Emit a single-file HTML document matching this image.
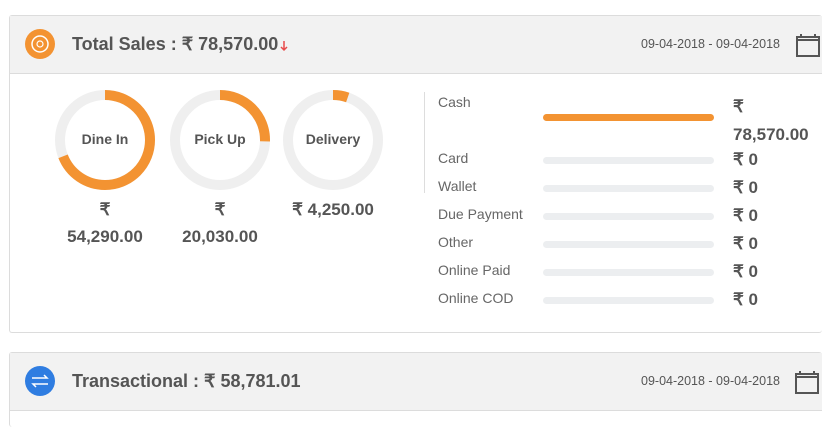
<!DOCTYPE html>
<html style="overflow:hidden;height:428px"><head><meta charset="utf-8"><style>
body{margin:0;width:840px;height:428px;background:#fff;font-family:"Liberation Sans",sans-serif;color:#555;position:relative;overflow:hidden}
.a{position:absolute;white-space:nowrap}
.card{position:absolute;left:9px;width:812px;border:1px solid #dcdcdc;border-radius:3px;background:#fff;border-right:none}
.hd{position:absolute;left:0;right:0;top:0;height:57px;background:#f2f2f2;border-bottom:1px solid #dcdcdc}
.t{font-size:18px;font-weight:bold;color:#555}
.lbl{font-size:14px;color:#666}
.bar{position:absolute;left:543px;width:171px;height:7px;border-radius:4px;background:#eceef0}
.v{font-size:17px;font-weight:bold;color:#555}
</style></head><body>
<div class="card" style="top:15px;height:316px"><div class="hd"></div></div>
<div class="card" style="top:352px;height:74px;border-bottom:none"><div class="hd"></div></div>

<svg class="a" style="left:0;top:0" width="840" height="428">
<circle cx="40" cy="44" r="15" fill="#f39332"/>
<circle cx="40" cy="44" r="8" fill="none" stroke="#fff" stroke-width="1.5"/>
<circle cx="40" cy="44" r="3" fill="none" stroke="#fff" stroke-width="1.2"/>
<circle cx="40" cy="381" r="15" fill="#2f7de1"/>
<path d="M32 378h15l-3-3M48 384h-15l3 3" fill="none" stroke="#fff" stroke-width="1.5"/>
<path d="M284 41v9m-3-3l3 3l3-3" fill="none" stroke="#e84a4a" stroke-width="1.5"/>
<g fill="none" stroke="#555" stroke-width="2"><rect x="797" y="37" width="22" height="19"/><path d="M797 40h22"/><path d="M801 34v4M815 34v4"/></g>
<rect x="796" y="374" width="22" height="19" fill="none" stroke="#555" stroke-width="2"/><path d="M796 377h22M800 371v4M814 371v4" stroke="#555" stroke-width="2"/>
<g fill="none" stroke-width="10">
<circle cx="105" cy="140" r="45" stroke="#efefef"/>
<circle cx="105" cy="140" r="45" stroke="#f39332" stroke-dasharray="195 300" transform="rotate(-90 105 140)"/>
<circle cx="220" cy="140" r="45" stroke="#efefef"/>
<circle cx="220" cy="140" r="45" stroke="#f39332" stroke-dasharray="72 300" transform="rotate(-90 220 140)"/>
<circle cx="333" cy="140" r="45" stroke="#efefef"/>
<circle cx="333" cy="140" r="45" stroke="#f39332" stroke-dasharray="15 300" transform="rotate(-90 333 140)"/>
</g>
<line x1="424.5" y1="92" x2="424.5" y2="193" stroke="#ddd"/>
</svg>

<div class="a t" style="left:72px;top:34px">Total Sales : ₹ 78,570.00</div>
<div class="a t" style="left:72px;top:371px">Transactional : ₹ 58,781.01</div>
<div class="a" style="left:641px;top:37px;font-size:12.5px;color:#555">09-04-2018 - 09-04-2018</div>
<div class="a" style="left:641px;top:374px;font-size:12.5px;color:#555">09-04-2018 - 09-04-2018</div>

<div class="a" style="left:55px;width:100px;text-align:center;top:131px;font-size:14px;font-weight:bold">Dine In</div>
<div class="a" style="left:170px;width:100px;text-align:center;top:131px;font-size:14px;font-weight:bold">Pick Up</div>
<div class="a" style="left:283px;width:100px;text-align:center;top:131px;font-size:14px;font-weight:bold">Delivery</div>
<div class="a v" style="left:55px;width:100px;text-align:center;top:196px;line-height:27px">₹<br>54,290.00</div>
<div class="a v" style="left:170px;width:100px;text-align:center;top:196px;line-height:27px">₹<br>20,030.00</div>
<div class="a v" style="left:283px;width:100px;text-align:center;top:196px;line-height:27px">₹ 4,250.00</div>

<div class="a lbl" style="left:438px;top:94px">Cash</div>
<div class="bar" style="top:114px;background:#f39332"></div>
<div class="a v" style="left:733px;top:93px;line-height:28px">₹<br>78,570.00</div>
<div class="a lbl" style="left:438px;top:150px">Card</div><div class="bar" style="top:157px"></div><div class="a v" style="left:733px;top:150px">₹ 0</div>
<div class="a lbl" style="left:438px;top:178px">Wallet</div><div class="bar" style="top:185px"></div><div class="a v" style="left:733px;top:178px">₹ 0</div>
<div class="a lbl" style="left:438px;top:206px">Due Payment</div><div class="bar" style="top:213px"></div><div class="a v" style="left:733px;top:206px">₹ 0</div>
<div class="a lbl" style="left:438px;top:234px">Other</div><div class="bar" style="top:241px"></div><div class="a v" style="left:733px;top:234px">₹ 0</div>
<div class="a lbl" style="left:438px;top:262px">Online Paid</div><div class="bar" style="top:269px"></div><div class="a v" style="left:733px;top:262px">₹ 0</div>
<div class="a lbl" style="left:438px;top:290px">Online COD</div><div class="bar" style="top:297px"></div><div class="a v" style="left:733px;top:290px">₹ 0</div>
</body></html>
